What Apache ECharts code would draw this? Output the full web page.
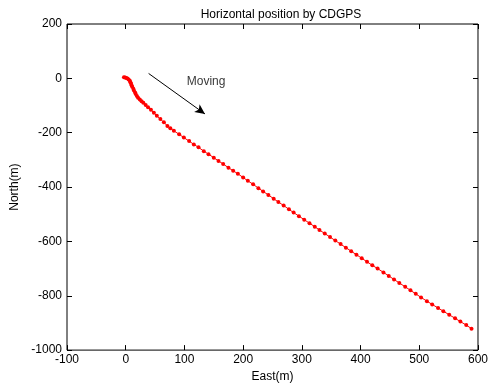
<!DOCTYPE html>
<html>
<head>
<meta charset="utf-8">
<script src="https://cdn.jsdelivr.net/npm/echarts@6/dist/echarts.min.js"></script>
<style>
  html, body { margin: 0; padding: 0; background: #fff; }
  #chart { width: 491px; height: 388px; }
</style>
</head>
<body>
<div id="chart"></div>
<script>
// East / North positions (m)
const east = [
  -3, -1, 1, 3, 5, 7, 8, 9, 10, 11, 13, 14, 16, 17, 19, 21, 24, 27, 30, 34,
  38, 43, 48, 53, 59, 65, 71, 76, 82, 91, 99, 108, 116, 124, 133, 141, 150, 158,
  166, 175, 183, 191, 200, 208, 217, 226, 234, 243, 252, 260, 269, 278, 286,
  295, 304, 313, 322, 330, 339, 348, 357, 366, 375, 384, 393,
  402, 411, 420, 429, 439, 448, 457, 466, 476, 485, 494, 503,
  513, 522, 532, 541, 551, 561, 570, 580, 589
];
const north = [
  4, 3, 1, -1, -4, -9, -14, -19, -25, -31, -38, -45, -52, -58, -65, -71, -78, -84, -90, -98,
  -106, -116, -127, -138, -150, -162, -175, -184, -193, -206, -218, -231, -243, -254, -268, -279, -292, -304,
  -315, -329, -340, -351, -365, -377, -390, -404, -416, -429, -443, -455, -468, -482, -494,
  -507, -520, -533, -546, -558, -571, -584, -597, -610, -623, -636, -649,
  -662, -675, -688, -700, -714, -727, -740, -753, -767, -780, -793, -806,
  -820, -832, -845, -857, -870, -883, -895, -908, -921
];

// annotation: arrow from -> to, and label anchor
const arrowFrom = [39, 18];
const arrowTo = [135, -131];
const noteAt = [104, -11];
const noteText = 'Moving';

const xTicks = { min: -100, max: 600, interval: 100 };
const yTicks = { min: -1000, max: 200, interval: 200 };

const font = 'Liberation Sans, Arial, sans-serif';
const label = { color: '#000', fontSize: 12, fontFamily: font };
const plain = (v) => String(v);

// box is drawn by the grid border; axes only carry inward ticks
const lineOff = () => ({ show: false, onZero: false });
const tickIn = () => ({ show: true, inside: true, length: 5, lineStyle: { color: '#000', width: 1 } });

const chart = echarts.init(document.getElementById('chart'), null, { renderer: 'canvas' });

chart.setOption({
  animation: false,
  backgroundColor: '#fff',
  title: {
    text: 'Horizontal position by CDGPS',
    left: 276, top: 4, textAlign: 'center',
    textStyle: { fontSize: 12, fontWeight: 'normal', color: '#000', fontFamily: font }
  },
  grid: { left: 67, right: 6, top: 24, bottom: 36, show: true, borderColor: '#000', borderWidth: 1 },
  xAxis: [
    {
      type: 'value', ...xTicks, position: 'bottom',
      name: 'East(m)', nameLocation: 'middle', nameGap: 20,
      nameTextStyle: label,
      axisLine: lineOff(), axisTick: tickIn(),
      axisLabel: { ...label, margin: 4, formatter: plain },
      splitLine: { show: false }
    },
    {
      type: 'value', ...xTicks, position: 'top',
      axisLine: lineOff(), axisTick: tickIn(), axisLabel: { show: false }, splitLine: { show: false }
    }
  ],
  yAxis: [
    {
      type: 'value', ...yTicks, position: 'left',
      name: 'North(m)', nameLocation: 'middle', nameGap: 44, nameRotate: 90,
      nameTextStyle: label,
      axisLine: lineOff(), axisTick: tickIn(),
      axisLabel: { ...label, margin: 5, formatter: plain },
      splitLine: { show: false }
    },
    {
      type: 'value', ...yTicks, position: 'right',
      axisLine: lineOff(), axisTick: tickIn(), axisLabel: { show: false }, splitLine: { show: false }
    }
  ],
  series: [
    {
      type: 'line',
      data: east.map((e, i) => [e, north[i]]),
      symbol: 'circle', symbolSize: 4, showSymbol: true,
      lineStyle: { color: '#ff0000', width: 1 },
      itemStyle: { color: '#ff0000' },
      markLine: {
        silent: true,
        symbol: ['none', 'arrow'], symbolSize: [7, 10],
        lineStyle: { color: '#000', width: 1, type: 'solid' },
        label: { show: false },
        data: [[{ coord: arrowFrom }, { coord: arrowTo }]]
      }
    },
    {
      type: 'scatter',
      data: [noteAt],
      symbolSize: 0,
      label: {
        show: true, formatter: noteText, position: 'inside', align: 'left',
        ...label
      }
    }
  ]
});
</script>
</body>
</html>
